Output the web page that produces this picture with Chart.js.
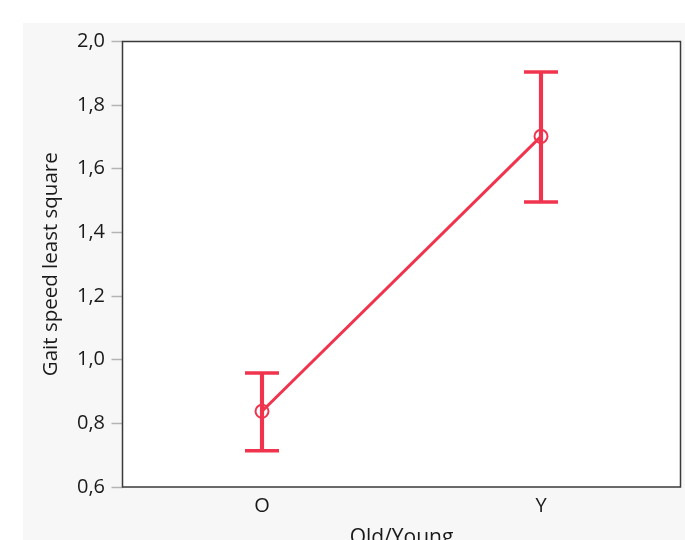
<!DOCTYPE html>
<html>
<head>
<meta charset="utf-8">
<script src="https://cdn.jsdelivr.net/npm/chart.js@4"></script>
<style>
  html, body { margin: 0; padding: 0; background: #fff; overflow: hidden; }
  #panel { position: absolute; left: 23px; top: 23px; width: 662px; height: 540px; background: #f7f7f7; }
</style>
</head>
<body>
<div id="panel"><canvas id="chart" width="662" height="540"></canvas></div>
<script>
const categories = ["O", "Y"];
const means = [0.838, 1.702];
const lower = [0.714, 1.496];
const upper = [0.958, 1.904];
const yTicks = [0.6, 0.8, 1.0, 1.2, 1.4, 1.6, 1.8, 2.0];

const red = "rgb(240, 52, 78)";
const textColor = "#1a1a1a";
const font = "'Open Sans', 'Noto Sans', sans-serif";

// white plot area plus the dark frame around it
const framePlugin = {
  id: "frame",
  beforeDatasetsDraw(chart) {
    const { ctx, chartArea: a } = chart;
    ctx.save();
    ctx.fillStyle = "#fff";
    ctx.fillRect(a.left, a.top, a.right - a.left, a.bottom - a.top);
    ctx.strokeStyle = "#3a3a3a";
    ctx.lineWidth = 1.5;
    ctx.strokeRect(a.left, a.top, a.right - a.left, a.bottom - a.top);
    ctx.restore();
  },
};

new Chart(document.getElementById("chart"), {
  data: {
    labels: categories,
    datasets: [
      {
        type: "bar",
        label: "range",
        data: categories.map((c, i) => [lower[i], upper[i]]),
        backgroundColor: red,
        borderWidth: 0,
        barThickness: 3.5,
        order: 3,
      },
      {
        type: "line",
        label: "upper",
        data: upper,
        showLine: false,
        pointStyle: "line",
        pointRadius: 17,
        pointBorderWidth: 3.5,
        borderColor: red,
        order: 2,
      },
      {
        type: "line",
        label: "lower",
        data: lower,
        showLine: false,
        pointStyle: "line",
        pointRadius: 17,
        pointBorderWidth: 3.5,
        borderColor: red,
        order: 2,
      },
      {
        type: "line",
        label: "mean",
        data: means,
        borderColor: red,
        borderWidth: 3,
        pointStyle: "circle",
        pointRadius: 6.5,
        pointBorderWidth: 2,
        pointBackgroundColor: "rgba(0,0,0,0)",
        pointBorderColor: red,
        order: 1,
      },
    ],
  },
  options: {
    responsive: false,
    animation: false,
    layout: { autoPadding: false, padding: { top: 17, right: 4.5, bottom: 0, left: 0 } },
    plugins: { legend: { display: false }, tooltip: { enabled: false } },
    scales: {
      x: {
        offset: true,
        grid: { display: false, drawTicks: false },
        border: { display: false },
        ticks: { color: textColor, padding: 7, font: { family: font, size: 20 } },
        title: {
          display: true,
          text: "Old/Young",
          color: textColor,
          padding: { top: 0, bottom: 12 },
          font: { family: font, size: 21 },
        },
        afterFit: (s) => { s.height = 76; },
      },
      y: {
        min: 0.6,
        max: 2.0,
        afterBuildTicks: (s) => { s.ticks = yTicks.map((v) => ({ value: v })); },
        grid: { drawOnChartArea: false, tickLength: 11, tickColor: "#b4b4b4", tickWidth: 1.5 },
        border: { display: false },
        ticks: {
          color: textColor,
          padding: 6.5,
          font: { family: font, size: 20 },
          callback: (v) => v.toFixed(1).replace(".", ","),
        },
        title: {
          display: true,
          text: "Gait speed least square",
          color: textColor,
          padding: { top: 16, bottom: 0 },
          font: { family: font, size: 20.5 },
        },
        afterFit: (s) => { s.width = 99.5; },
      },
    },
  },
  plugins: [framePlugin],
});
</script>
</body>
</html>
